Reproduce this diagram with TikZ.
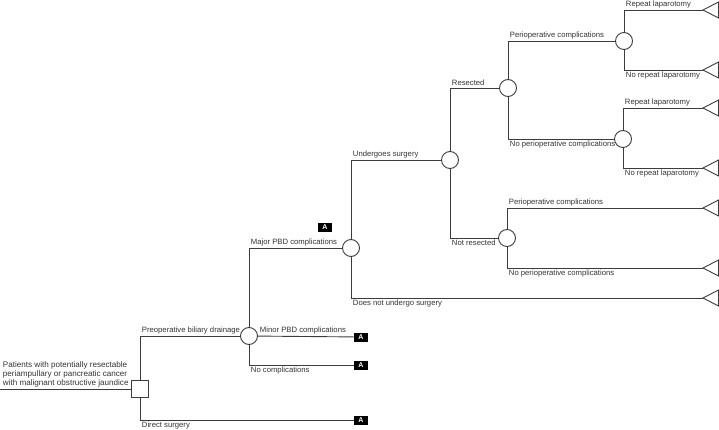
\documentclass[tikz,border=0pt]{standalone}
\usepackage{fontspec}
\setmainfont{Liberation Sans}
\definecolor{treeline}{HTML}{3C3C3C}
\definecolor{treetext}{HTML}{333333}

\begin{document}
\begin{tikzpicture}[x=1pt, y=-1pt, line width=0.9pt, color=treeline,
  decision/.style={rectangle,draw,fill=white,minimum size=17pt,inner sep=0pt},
  chance/.style={circle,draw,fill=white,minimum size=17pt,inner sep=0pt},
  abox/.style={rectangle,fill=black,text=white,font=\fontsize{7}{7}\selectfont\bfseries,
    minimum width=14pt,minimum height=9pt,inner sep=0pt},
  up/.style={anchor=south west,inner sep=1.5pt,text=treetext,font=\fontsize{7.7}{8}\selectfont},
  down/.style={anchor=north west,inner sep=1.5pt,text=treetext,font=\fontsize{7.7}{8}\selectfont}]
  \useasboundingbox (0,0) rectangle (719,430);

  \coordinate (start) at (0,389);
  \node[decision] (sq) at (140,389) {};
  \node[chance] (pbd) at (249,336) {};
  \node[chance] (major) at (351,248) {};
  \node[chance] (surg) at (450,160) {};
  \node[chance] (res) at (508,88) {};
  \node[chance] (nores) at (507,238) {};
  \node[chance] (comp) at (624,41) {};
  \node[chance] (nocomp) at (623,139) {};

  \node[abox] (aminor) at (361,337) {A};
  \node[abox] (anone) at (361,365) {A};
  \node[abox] (adirect) at (361,420) {A};
  \node[abox] (amajor) at (325,227) {A};

  % terminal triangles, apex on the left
  \coordinate (t1) at (703,10);
  \coordinate (t2) at (703,70);
  \coordinate (t3) at (703,108);
  \coordinate (t4) at (703,168);
  \coordinate (t5) at (703,208);
  \coordinate (t6) at (703,268);
  \coordinate (t7) at (703,298);
  \foreach \t in {t1,t2,t3,t4,t5,t6,t7}
    \draw[line join=miter] (\t) -- ++(15.5,-8) -- ++(0,16) -- cycle;

  % root
  \node[anchor=south west,align=left,inner sep=1.5pt,text=treetext,
    font=\fontsize{8.1}{9}\selectfont] (rootlbl) at (1,389)
    {Patients with potentially resectable\\periampullary or pancreatic cancer\\with malignant obstructive jaundice};
  \draw (start) -- (sq);

  % drainage or not
  \draw (sq) |- node[up,pos=0.5] {Preoperative biliary drainage} (pbd);
  \draw (sq) |- node[down,pos=0.5] {Direct surgery} (adirect);

  % PBD complications
  \draw (pbd) |- node[up,pos=0.5] {Major PBD complications} (major);
  \draw (pbd) -- node[up,pos=0] {Minor PBD complications} (aminor);
  \draw (pbd) |- node[down,pos=0.5] {No complications} (anone);

  % surgery
  \draw (major) |- node[up,pos=0.5] {Undergoes surgery} (surg);
  \draw (major) |- node[down,pos=0.5] {Does not undergo surgery} (t7);
  \draw (surg) |- node[up,pos=0.5] {Resected} (res);
  \draw (surg) |- node[down,pos=0.5] {Not resected} (nores);

  % resected
  \draw (res) |- node[up,pos=0.5] {Perioperative complications} (comp);
  \draw (res) |- node[down,pos=0.5] {No perioperative complications} (nocomp);
  \draw (comp) |- node[up,pos=0.5] {Repeat laparotomy} (t1);
  \draw (comp) |- node[down,pos=0.5] {No repeat laparotomy} (t2);
  \draw (nocomp) |- node[up,pos=0.5] {Repeat laparotomy} (t3);
  \draw (nocomp) |- node[down,pos=0.5] {No repeat laparotomy} (t4);

  % not resected
  \draw (nores) |- node[up,pos=0.5] {Perioperative complications} (t5);
  \draw (nores) |- node[down,pos=0.5] {No perioperative complications} (t6);
\end{tikzpicture}
\end{document}
